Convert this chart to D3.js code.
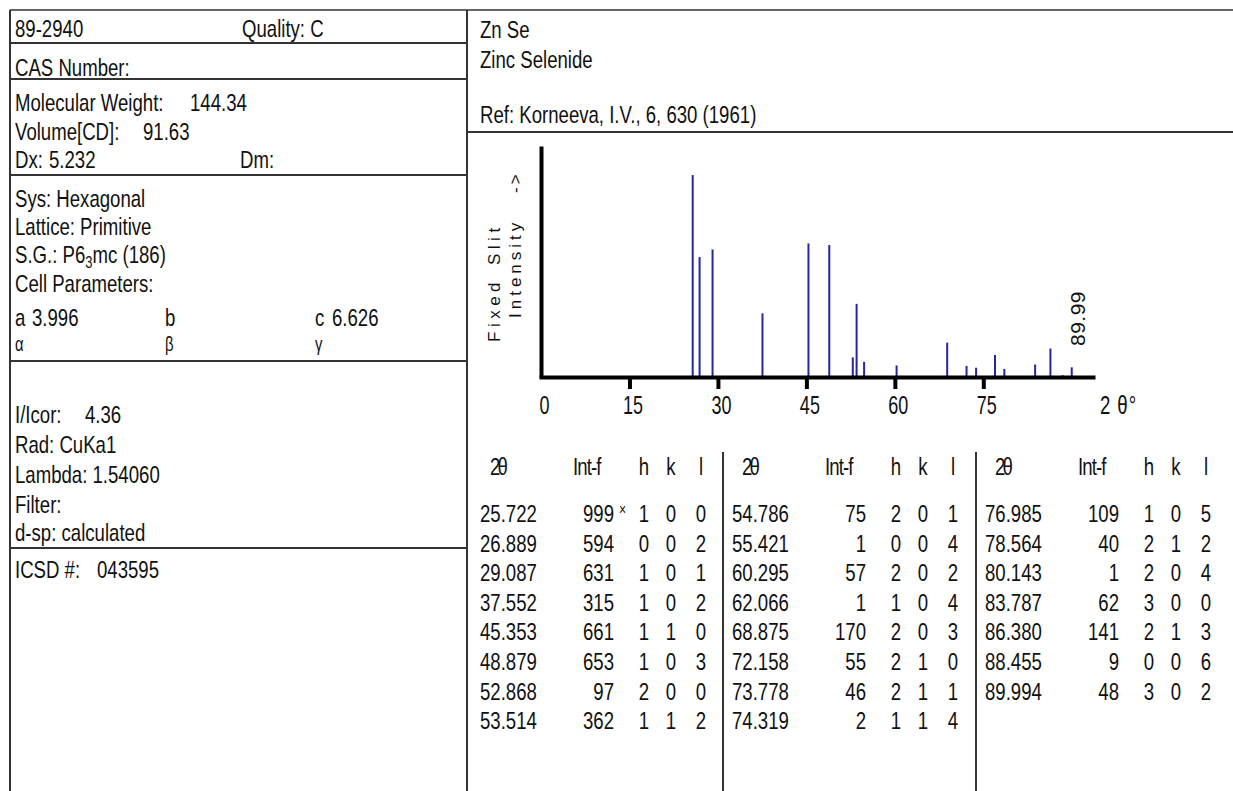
<!DOCTYPE html>
<html><head><meta charset="utf-8">
<script src="https://cdn.jsdelivr.net/npm/d3@7"></script>
<style>body{margin:0;background:#fff;} svg{display:block;}</style>
</head><body>
<svg id="c" width="1233" height="791"></svg>
<script>
// ---- data ----
const twoTheta = [25.722, 26.889, 29.087, 37.552, 45.353, 48.879, 52.868, 53.514,
                  54.786, 55.421, 60.295, 62.066, 68.875, 72.158, 73.778, 74.319,
                  76.985, 78.564, 80.143, 83.787, 86.380, 88.455, 89.994];
const twoThetaLabels = ["25.722","26.889","29.087","37.552","45.353","48.879","52.868","53.514",
                  "54.786","55.421","60.295","62.066","68.875","72.158","73.778","74.319",
                  "76.985","78.564","80.143","83.787","86.380","88.455","89.994"];
const intensity = [999, 594, 631, 315, 661, 653, 97, 362,
                   75, 1, 57, 1, 170, 55, 46, 2,
                   109, 40, 1, 62, 141, 9, 48];
const hIdx = [1,0,1,1,1,1,2,1, 2,0,2,1,2,2,2,1, 1,2,2,3,2,0,3];
const kIdx = [0,0,0,0,1,0,0,1, 0,0,0,0,0,1,1,1, 0,1,0,0,1,0,0];
const lIdx = [0,2,1,2,0,3,0,2, 1,4,2,4,3,0,1,4, 5,2,4,0,3,6,2];
const xTicks = [0, 15, 30, 45, 60, 75];
const xMax = 93.6, yMax = 1143;
const tableBlocks = [[0, 8], [8, 16], [16, 23]];
const headerCols = ["2θ", "Int-f", "h", "k", "l"];

// ---- drawing ----
const svg = d3.select("#c");
const FONT = "'Liberation Sans', Arial, sans-serif";
const SX = 0.93, SY = 1.22;
const LINE = "#333";

function txt(x, y, s, o = {}) {
  const t = svg.append("text")
    .attr("transform", `translate(${x},${y}) scale(${o.sx || SX},${o.sy || SY})`)
    .attr("font-family", FONT)
    .attr("font-size", o.size || 20)
    .attr("fill", "#111")
    .attr("text-anchor", o.anchor || "start")
    .attr("letter-spacing", o.ls != null ? o.ls : 0)
    .text(s);
  return t;
}
function hline(x1, x2, y, w = 2) {
  svg.append("line").attr("x1", x1).attr("x2", x2).attr("y1", y).attr("y2", y)
    .attr("stroke", LINE).attr("stroke-width", w);
}
function vline(x, y1, y2, w = 2) {
  svg.append("line").attr("x1", x).attr("x2", x).attr("y1", y1).attr("y2", y2)
    .attr("stroke", LINE).attr("stroke-width", w);
}

// frame
hline(10, 1233, 10, 1.5);
vline(10, 10, 791, 2);
vline(467, 10, 791, 2);
hline(10, 467, 43);
hline(10, 467, 79);
hline(10, 467, 175);
hline(10, 467, 361);
hline(10, 467, 548);
hline(467, 1233, 132);

// left panel text
txt(15, 37, "89-2940");
txt(242, 37, "Quality: C");
txt(15, 76, "CAS Number:");
txt(15, 111, "Molecular Weight:");
txt(190, 111, "144.34");
txt(15, 140, "Volume[CD]:");
txt(143, 140, "91.63");
txt(15, 168, "Dx:");
txt(49, 168, "5.232");
txt(240, 168, "Dm:");
txt(15, 207, "Sys: Hexagonal");
txt(15, 235, "Lattice: Primitive");
const sg = txt(15, 263, "S.G.: P6");
sg.append("tspan").attr("font-size", 14).attr("dy", 4).text("3");
sg.append("tspan").attr("dy", -4).text("mc (186)");
txt(15, 292, "Cell Parameters:");
txt(15, 326, "a");
txt(32, 326, "3.996");
txt(165, 326, "b");
txt(315, 326, "c");
txt(332, 326, "6.626");
txt(15, 351, "α", {size: 16});
txt(165, 351, "β", {size: 16});
txt(315, 351, "γ", {size: 16});
txt(15, 423, "I/Icor:");
txt(85, 423, "4.36");
txt(15, 453, "Rad: CuKa1");
txt(15, 483, "Lambda: 1.54060");
txt(15, 513, "Filter:");
txt(15, 541, "d-sp: calculated");
txt(15, 578, "ICSD #:");
txt(97, 578, "043595");

// right panel header
txt(480, 38, "Zn Se");
txt(480, 68, "Zinc Selenide");
txt(480, 123, "Ref: Korneeva, I.V., 6, 630 (1961)");

// plot
const x = d3.scaleLinear().domain([0, xMax]).range([541, 1093]);
const y = d3.scaleLinear().domain([0, yMax]).range([377, 146]);

svg.append("g").selectAll("line").data(twoTheta).join("line")
  .attr("x1", d => x(d)).attr("x2", d => x(d))
  .attr("y1", y(0)).attr("y2", (d, i) => y(intensity[i]))
  .attr("stroke", "#2626a3").attr("stroke-width", 2);

const yAxis = svg.append("g").attr("transform", `translate(${x(0)},0)`)
  .call(d3.axisLeft(y).ticks(0).tickSizeOuter(0));
yAxis.select(".domain").attr("stroke", "#000").attr("stroke-width", 4);

const xAxis = svg.append("g").attr("transform", `translate(0,${y(0)})`)
  .call(d3.axisBottom(x).tickValues(xTicks).tickSize(12).tickSizeOuter(0).tickFormat(d3.format("d")));
xAxis.select(".domain").attr("stroke", "#000").attr("stroke-width", 4).attr("stroke-linecap", "square");
xAxis.selectAll(".tick line").attr("stroke", "#000").attr("stroke-width", 4).attr("y1", 0);
xAxis.selectAll(".tick").filter(d => d === 0).select("line").remove();
xAxis.selectAll(".tick text")
  .attr("font-family", FONT).attr("font-size", 20).attr("fill", "#111")
  .attr("y", 0).attr("dy", 0)
  .attr("transform", `translate(3,37) scale(0.9,1.3)`);

txt(1100, 414, "2 θ°", {ls: 1, sy: 1.3});

// y label
function rot(xp, yp, s, size, ls) {
  svg.append("text").attr("transform", `translate(${xp},${yp}) rotate(-90)`)
    .attr("font-family", FONT).attr("font-size", size).attr("letter-spacing", ls)
    .attr("fill", "#111").text(s);
}
rot(500, 342, "Fixed", 17, 4.5);
rot(500, 265, "Slit", 17, 4.5);
rot(521, 318, "Intensity", 17, 4);
rot(521, 193, "->", 17, 3);
rot(x(twoTheta[twoTheta.length - 1]) + 13, 346, "89.99", 21, 0.5);

// table
const blockLeft = [480, 732, 985];
const rowY = i => 522 + i * 29.6;
vline(723, 452, 791, 2);
vline(976, 452, 791, 2);
tableBlocks.forEach(([a, b], bi) => {
  const L = blockLeft[bi];
  txt(L + 10, 475, headerCols[0], {ls: -3});
  txt(L + 93, 475, headerCols[1], {ls: -1});
  txt(L + 164, 475, headerCols[2], {anchor: "middle"});
  txt(L + 191, 475, headerCols[3], {anchor: "middle"});
  txt(L + 221, 475, headerCols[4], {anchor: "middle"});
  for (let i = a; i < b; i++) {
    const r = rowY(i - a);
    txt(L, r, twoThetaLabels[i]);
    txt(L + 134, r, String(intensity[i]), {anchor: "end"});
    if (intensity[i] === 999) txt(L + 139, r - 7, "×", {size: 13});
    txt(L + 164, r, String(hIdx[i]), {anchor: "middle"});
    txt(L + 191, r, String(kIdx[i]), {anchor: "middle"});
    txt(L + 221, r, String(lIdx[i]), {anchor: "middle"});
  }
});
</script>
</body></html>
